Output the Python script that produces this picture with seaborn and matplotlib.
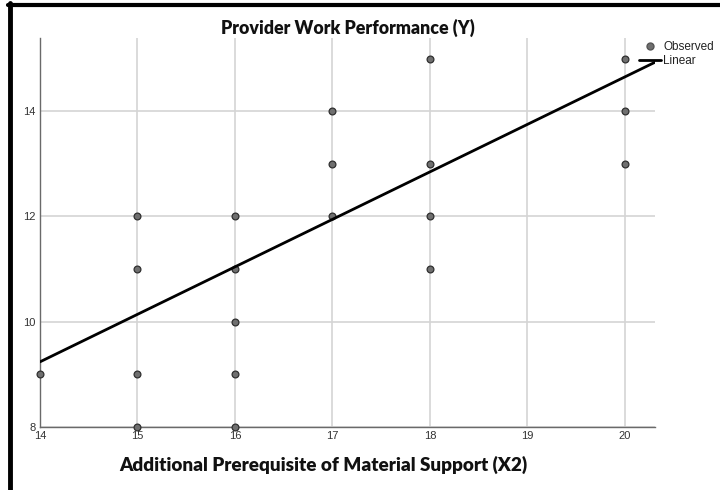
import numpy as np
import pandas as pd
import matplotlib
matplotlib.use("Agg")
import matplotlib.pyplot as plt
from matplotlib.lines import Line2D
import seaborn as sns

# Observed data points (X2, Y)
x_obs = [14, 15, 15, 15, 15, 16, 16, 16, 16, 16, 17, 17, 17, 18, 18, 18, 18, 20, 20, 20]
y_obs = [9, 12, 11, 9, 8, 12, 11, 10, 9, 8, 14, 13, 12, 15, 13, 12, 11, 15, 14, 13]

# Linear fit coefficients
fit_intercept = -3.39
fit_slope = 0.902

x_ticks = [14, 15, 16, 17, 18, 19, 20]
y_ticks = [8, 10, 12, 14]

title = "Provider Work Performance (Y)"
xlabel = "Additional Prerequisite of Material Support (X2)"

sns.set_style("white")
plt.rcParams['font.family'] = ['Liberation Sans', 'DejaVu Sans']

fig = plt.figure(figsize=(7.2, 4.9), dpi=100)
ax = fig.add_axes([40/720, 1-427/490, 615/720, 389/490])

xlim = (14, 20.31)
ylim = (8, 15.39)

df = pd.DataFrame({"x": x_obs, "y": y_obs})
sns.scatterplot(data=df, x="x", y="y", ax=ax, color="#6f6f6f", edgecolor="#2f2f2f",
                linewidth=0.9, s=24, zorder=4, clip_on=False, legend=False)

line_x = np.array(xlim)
line_df = pd.DataFrame({"x": line_x, "y": fit_intercept + fit_slope * line_x})
sns.lineplot(data=line_df, x="x", y="y", ax=ax, color="black", linewidth=2.0, zorder=5)

ax.set_xlim(*xlim)
ax.set_ylim(*ylim)
ax.set_xticks(x_ticks)
ax.set_yticks(y_ticks)
ax.grid(True, color="#d4d4d4", linewidth=1.2, zorder=0)
ax.set_axisbelow(True)
for s in ["top", "right"]:
    ax.spines[s].set_visible(False)
for s in ["left", "bottom"]:
    ax.spines[s].set_color("#6a6a6a")
    ax.spines[s].set_linewidth(1.0)
ax.tick_params(axis="both", length=0, labelsize=8, colors="#333333", pad=3)
ax.set_xlabel("")
ax.set_ylabel("")

fig.text(348/720, 1-28/490, title, ha="center", va="center", fontsize=12.8,
         fontweight="heavy", family=["Lato", "DejaVu Sans"], color="#111111")
fig.text(323/720, 1-465/490, xlabel, ha="center", va="center", fontsize=13.6,
         fontweight="heavy", family=["Lato", "DejaVu Sans"], color="#111111")

handles = [Line2D([], [], marker="o", linestyle="none", markerfacecolor="#6f6f6f",
                  markeredgecolor="#555555", markersize=5),
           Line2D([], [], color="black", linewidth=2.0)]
leg = fig.legend(handles, ["Observed", "Linear"], loc="upper left",
                 bbox_to_anchor=(639/720, 1-41/490), frameon=False,
                 fontsize=8.5, handlelength=1.9, handletextpad=0.15,
                 labelspacing=0.15, borderpad=0, borderaxespad=0)
for t in leg.get_texts():
    t.set_family(["Liberation Sans Narrow", "Liberation Sans", "DejaVu Sans"])
    t.set_color("#222222")

# Frame border lines
fig.add_artist(Line2D([10/720, 10/720], [0, 1-3/490], transform=fig.transFigure,
                      color="black", linewidth=3.5))
fig.add_artist(Line2D([8/720, 1], [1-5/490, 1-5/490], transform=fig.transFigure,
                      color="black", linewidth=3.0))

fig.savefig("out.png", dpi=100)
